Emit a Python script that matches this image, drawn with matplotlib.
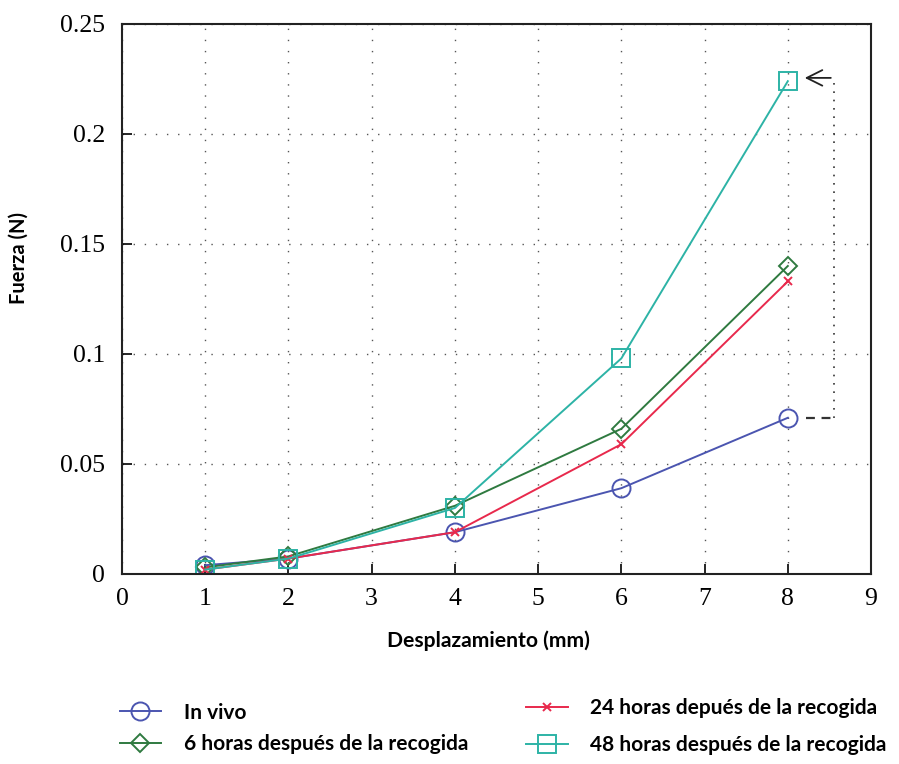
import matplotlib
matplotlib.use("Agg")
import matplotlib.pyplot as plt

# Desplazamiento (mm) and force (N) for each condition
desplazamiento = [1, 2, 4, 6, 8]
in_vivo = [0.004, 0.007, 0.019, 0.039, 0.071]
horas_6 = [0.003, 0.008, 0.031, 0.066, 0.140]
horas_24 = [0.002, 0.007, 0.019, 0.059, 0.133]
horas_48 = [0.002, 0.007, 0.030, 0.098, 0.224]

etiquetas = ["In vivo",
             "6 horas después de la recogida",
             "24 horas depués de la recogida",
             "48 horas después de la recogida"]

x_ticks = list(range(0, 10))
y_ticks = [0, 0.05, 0.1, 0.15, 0.2, 0.25]
y_tick_labels = ["0", "0.05", "0.1", "0.15", "0.2", "0.25"]

fig = plt.figure(figsize=(8.99, 7.64), dpi=100)
ax = fig.add_axes([0.1357, 0.2487, 0.8332, 0.7199])

c_blue = "#4b55b0"
c_green = "#2f7a40"
c_red = "#e8294c"
c_teal = "#2db3a6"

l1, = ax.plot(desplazamiento, in_vivo, color=c_blue, lw=1.4, marker="o",
              ms=13, mfc="none", mec=c_blue, mew=1.4)
l2, = ax.plot(desplazamiento, horas_6, color=c_green, lw=1.4, marker="D",
              ms=9, mfc="none", mec=c_green, mew=1.4)
l3, = ax.plot(desplazamiento, horas_24, color=c_red, lw=1.4, marker="x",
              ms=6, mec=c_red, mew=1.4)
l4, = ax.plot(desplazamiento, horas_48, color=c_teal, lw=1.4, marker="s",
              ms=13, mfc="none", mec=c_teal, mew=1.4)

# Bracket relating the final In vivo point to the final 48 h point
xb = 8.55
ax.plot([8.22, xb], [in_vivo[-1], in_vivo[-1]], color="#333333", lw=1.6,
        ls=(0, (4, 3)))
ax.plot([xb, xb], [in_vivo[-1], horas_48[-1] + 0.0015], color="#333333",
        lw=1.2, ls=(0, (1, 4)))
ax.annotate("", xy=(8.17, horas_48[-1] + 0.0015),
            xytext=(xb, horas_48[-1] + 0.0015),
            arrowprops=dict(arrowstyle="->", color="#222222", lw=1.3,
                            mutation_scale=28))

ax.set_xlim(0, 9)
ax.set_ylim(0, 0.25)
ax.set_xticks(x_ticks)
ax.set_yticks(y_ticks)
ax.set_yticklabels(y_tick_labels)
ax.grid(True, color="#555555", lw=1.0, ls=(0, (1, 7)))
ax.tick_params(direction="in", length=7, width=1.2, labelsize=18.5,
               top=False, right=False)
ax.tick_params(axis="y", pad=12)
ax.tick_params(axis="x", pad=10)
for lab in ax.get_xticklabels() + ax.get_yticklabels():
    lab.set_family("Liberation Serif")
for s in ax.spines.values():
    s.set_linewidth(1.5)
    s.set_color("#222222")

ax.set_xlabel("Desplazamiento (mm)", family="Lato", weight="bold",
              fontsize=15.2)
ax.xaxis.set_label_coords(0.489, -0.103)
ax.set_ylabel("Fuerza (N)", family="Lato", weight="bold", fontsize=14.5)
ax.yaxis.set_label_coords(-0.125, 0.574)

leg_prop = dict(family="Lato", weight="bold", size=15)
leg_kw = dict(frameon=False, prop=leg_prop, handlelength=2.0,
              handletextpad=1.1, borderpad=0, borderaxespad=0)
leg1 = fig.legend([l1, l2], etiquetas[:2], loc="center left",
                  bbox_to_anchor=(0.133, 0.0465), labelspacing=0.55,
                  **leg_kw)
leg2 = fig.legend([l3, l4], etiquetas[2:], loc="center left",
                  bbox_to_anchor=(0.585, 0.049), labelspacing=0.8,
                  **leg_kw)

fig.savefig("out.png", dpi=100)
